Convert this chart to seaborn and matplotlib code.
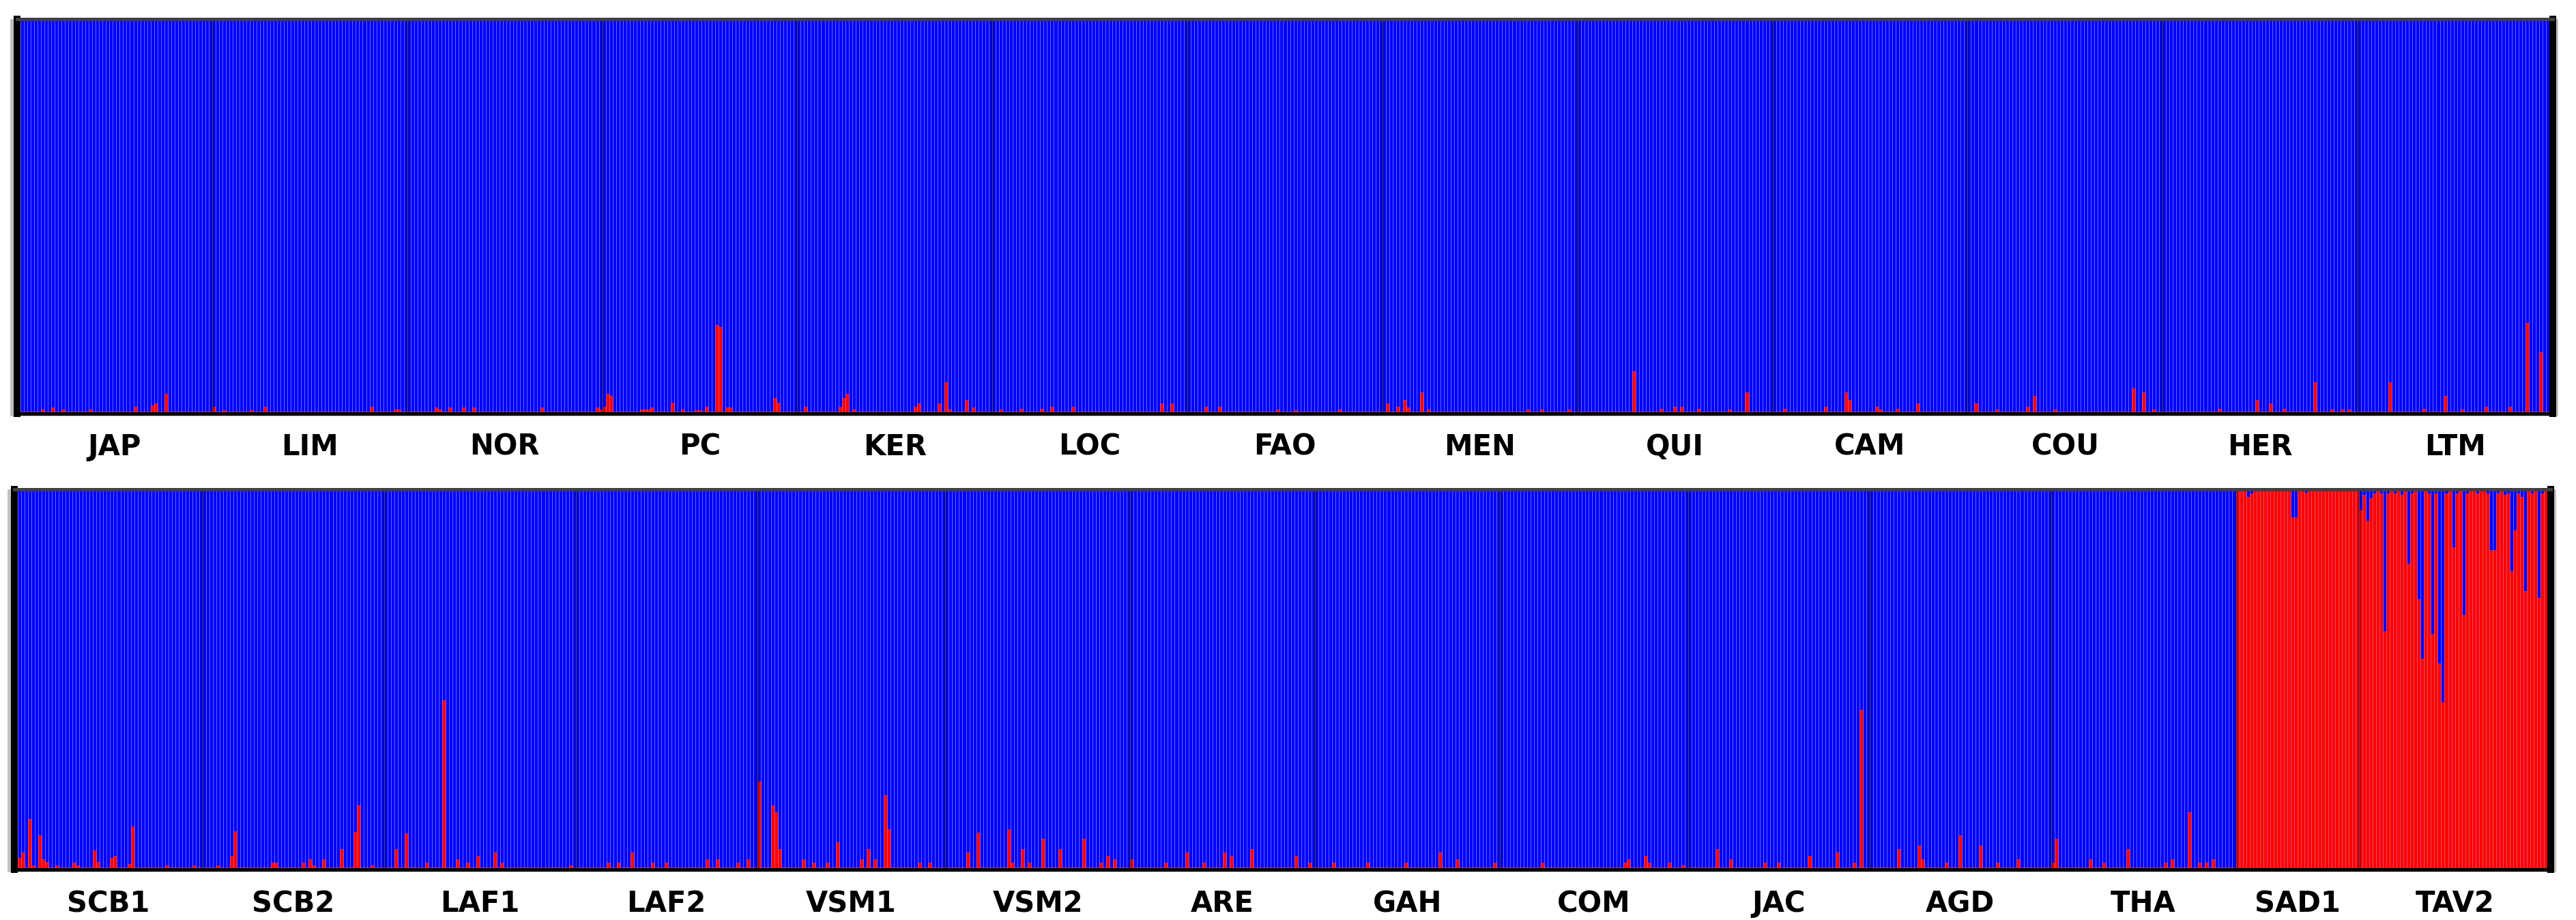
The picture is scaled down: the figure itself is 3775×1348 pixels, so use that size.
import seaborn as sns
import matplotlib.pyplot as plt
import matplotlib.patches as mpatches
import pandas as pd

# membership in the red cluster for each individual, per mille (blue = rest)
top_pops = ["JAP", "LIM", "NOR", "PC", "KER", "LOC", "FAO",
            "MEN", "QUI", "CAM", "COU", "HER", "LTM"]
bottom_pops = ["SCB1", "SCB2", "LAF1", "LAF2", "VSM1", "VSM2", "ARE",
               "GAH", "COM", "JAC", "AGD", "THA", "SAD1", "TAV2"]

JAP = [5, 5, 5, 5, 5, 5, 5, 10, 5, 5, 15, 5, 5, 10, 5, 5, 5, 5, 5, 5,
       5, 10, 5, 5, 5, 5, 5, 5, 5, 5, 5, 5, 5, 5, 17, 5, 5, 5, 5, 20,
       26, 5, 5, 50, 5, 5, 5, 5, 5, 5, 5, 5, 5, 5, 5, 5, 5]
LIM = [17, 5, 5, 8, 5, 5, 5, 5, 5, 5, 5, 8, 5, 5, 5, 17, 5, 5, 5, 5,
       5, 5, 5, 5, 5, 5, 5, 5, 5, 5, 5, 5, 5, 5, 5, 5, 5, 5, 5, 5,
       5, 5, 5, 5, 5, 5, 17, 5, 5, 5, 5, 5, 5, 10, 10, 5, 5]
NOR = [5, 5, 5, 5, 5, 5, 5, 5, 15, 10, 5, 5, 15, 5, 5, 5, 15, 5, 5, 15,
       5, 5, 5, 5, 5, 5, 5, 5, 5, 5, 5, 5, 5, 5, 5, 5, 5, 5, 5, 15,
       5, 5, 5, 5, 5, 5, 5, 5, 5, 5, 5, 5, 5, 5, 5, 15, 10]
PC = [17, 50, 45, 5, 5, 5, 5, 5, 5, 5, 5, 10, 10, 10, 15, 5, 5, 5, 5, 5,
      28, 5, 5, 10, 5, 5, 5, 8, 8, 5, 17, 5, 5, 225, 220, 5, 15, 15, 5, 5,
      5, 5, 5, 5, 5, 5, 5, 5, 5, 5, 40, 28, 5, 5, 5, 5, 5]
KER = [5, 5, 17, 5, 5, 5, 5, 5, 5, 5, 5, 5, 17, 40, 50, 5, 10, 5, 5, 5,
       5, 5, 5, 5, 5, 5, 5, 5, 5, 5, 5, 5, 5, 5, 17, 26, 5, 5, 5, 5,
       5, 26, 5, 80, 10, 5, 5, 5, 5, 35, 5, 15, 5, 5, 5, 5, 5]
LOC = [5, 5, 10, 5, 5, 5, 5, 5, 12, 5, 5, 5, 5, 5, 12, 5, 5, 18, 5, 5,
       5, 5, 5, 18, 5, 5, 5, 5, 5, 5, 5, 5, 5, 5, 5, 5, 5, 5, 5, 5,
       5, 5, 5, 5, 5, 5, 5, 5, 5, 26, 5, 5, 26, 5, 5, 5, 5]
FAO = [5, 5, 5, 5, 5, 18, 5, 5, 5, 18, 5, 5, 5, 5, 5, 5, 5, 5, 5, 5,
       5, 5, 5, 5, 5, 5, 10, 5, 5, 5, 5, 8, 5, 5, 5, 5, 5, 5, 5, 5,
       5, 5, 5, 5, 10, 5, 5, 5, 5, 5, 5, 5, 5, 5, 5, 5, 5]
MEN = [5, 26, 5, 5, 18, 5, 35, 15, 5, 5, 5, 53, 5, 10, 5, 5, 5, 5, 5, 5,
       5, 5, 5, 5, 5, 5, 5, 5, 5, 5, 5, 5, 5, 5, 5, 5, 5, 5, 5, 5,
       5, 5, 10, 5, 5, 5, 10, 5, 5, 5, 5, 5, 5, 5, 10, 5, 5]
QUI = [5, 5, 5, 5, 5, 5, 5, 5, 5, 5, 5, 5, 5, 5, 5, 5, 107, 5, 5, 5,
       5, 5, 5, 5, 12, 5, 5, 5, 18, 5, 18, 5, 5, 5, 5, 12, 5, 5, 5, 5,
       5, 5, 5, 5, 10, 5, 5, 5, 5, 53, 5, 5, 5, 5, 5, 5, 5]
CAM = [5, 5, 5, 12, 5, 5, 5, 5, 5, 5, 5, 5, 5, 5, 5, 18, 5, 5, 5, 5,
       5, 53, 35, 5, 5, 5, 5, 5, 5, 5, 18, 10, 5, 5, 5, 5, 12, 5, 5, 5,
       5, 5, 26, 5, 5, 5, 5, 5, 5, 5, 5, 5, 5, 5, 5, 5, 5]
COU = [5, 5, 26, 5, 5, 5, 5, 5, 10, 5, 5, 5, 5, 5, 5, 5, 5, 18, 5, 45,
       5, 5, 5, 5, 5, 10, 5, 5, 5, 5, 5, 5, 5, 5, 5, 5, 5, 5, 5, 5,
       5, 5, 5, 5, 5, 5, 5, 5, 64, 5, 5, 53, 5, 5, 10, 5, 5]
HER = [5, 5, 5, 5, 5, 5, 5, 5, 5, 5, 5, 5, 5, 5, 5, 5, 12, 5, 5, 5,
       5, 5, 5, 5, 5, 5, 5, 35, 5, 5, 5, 26, 5, 5, 5, 12, 5, 5, 5, 5,
       5, 5, 5, 5, 80, 5, 5, 5, 5, 10, 5, 5, 10, 5, 10, 5, 5]
LTM = [5, 5, 5, 5, 5, 5, 5, 5, 5, 80, 5, 5, 5, 5, 5, 5, 5, 5, 5, 12,
       5, 5, 5, 5, 5, 45, 5, 5, 5, 5, 10, 5, 5, 5, 5, 5, 5, 18, 5, 5,
       5, 5, 5, 5, 18, 5, 5, 5, 5, 230, 5, 5, 5, 155, 5, 5, 5]

SCB1 = [5, 30, 45, 5, 133, 10, 5, 89, 27, 20, 5, 5, 10, 5, 5, 5, 5, 18, 10, 5,
        5, 5, 5, 50, 20, 5, 5, 5, 30, 36, 5, 5, 5, 15, 114, 5, 5, 5, 5, 5,
        5, 5, 5, 5, 10, 5, 5, 5, 5, 5, 5, 5, 10, 5, 5]
SCB2 = [5, 5, 5, 5, 10, 5, 5, 5, 36, 100, 5, 5, 5, 5, 5, 5, 5, 5, 5, 5,
        18, 18, 5, 5, 5, 5, 5, 5, 5, 18, 5, 27, 10, 5, 5, 27, 5, 5, 5, 5,
        54, 5, 5, 5, 99, 168, 5, 5, 5, 10, 5, 5, 5]
LAF1 = [5, 5, 5, 54, 5, 5, 95, 5, 5, 5, 5, 5, 18, 5, 5, 5, 5, 445, 5, 5,
        5, 27, 5, 5, 18, 5, 5, 36, 5, 5, 5, 5, 45, 5, 18, 5, 5, 5, 5, 5,
        5, 5, 5, 5, 5, 5, 5, 5, 5, 5, 5, 5, 5, 5, 10, 5]
LAF2 = [5, 5, 5, 5, 5, 5, 5, 5, 5, 18, 5, 5, 18, 5, 5, 5, 45, 5, 5, 5,
        5, 5, 18, 5, 5, 5, 18, 5, 5, 5, 5, 5, 5, 5, 5, 5, 5, 5, 27, 5,
        5, 27, 5, 5, 5, 5, 5, 18, 5, 5, 27, 5, 5]
VSM1 = [231, 5, 5, 5, 168, 150, 54, 5, 5, 5, 5, 5, 5, 27, 5, 5, 18, 5, 5, 5,
        18, 5, 5, 72, 5, 5, 5, 5, 5, 5, 27, 5, 54, 5, 27, 5, 5, 195, 106, 5,
        5, 5, 5, 5, 5, 5, 5, 18, 5, 5, 18, 5, 5, 5, 5]
VSM2 = [5, 5, 5, 5, 5, 5, 45, 5, 5, 97, 5, 5, 5, 5, 5, 5, 5, 5, 106, 18,
        5, 5, 54, 5, 18, 5, 5, 5, 81, 5, 5, 5, 5, 54, 5, 5, 5, 5, 5, 5,
        81, 5, 5, 5, 5, 18, 5, 36, 5, 27, 5, 5, 5, 5]
ARE = [27, 5, 5, 5, 5, 5, 5, 5, 5, 5, 18, 5, 5, 5, 5, 5, 45, 5, 5, 5,
       5, 18, 5, 5, 5, 5, 5, 45, 5, 36, 5, 5, 5, 5, 5, 54, 5, 5, 5, 5,
       5, 5, 5, 5, 5, 5, 5, 5, 36, 5, 5, 5, 18, 5]
GAH = [5, 5, 5, 5, 5, 18, 5, 5, 5, 5, 5, 5, 5, 5, 5, 18, 5, 5, 5, 5,
       5, 5, 5, 5, 5, 5, 18, 5, 5, 5, 5, 5, 5, 5, 5, 5, 45, 5, 5, 5,
       5, 27, 5, 5, 5, 5, 5, 5, 5, 5, 5, 5, 18, 5]
COM = [5, 5, 5, 5, 5, 5, 5, 5, 5, 5, 5, 5, 18, 5, 5, 5, 5, 5, 5, 5,
       5, 5, 5, 5, 5, 5, 5, 5, 5, 5, 5, 5, 5, 5, 5, 5, 18, 27, 5, 5,
       5, 5, 36, 18, 5, 5, 5, 5, 5, 18, 5, 5, 5, 10, 5]
JAC = [5, 5, 5, 5, 5, 5, 5, 5, 54, 5, 5, 5, 27, 5, 5, 5, 5, 5, 5, 5,
       5, 5, 18, 5, 5, 5, 18, 5, 5, 5, 5, 5, 5, 5, 5, 36, 5, 5, 5, 5,
       5, 5, 5, 45, 5, 5, 5, 5, 18, 5, 420, 5, 5]
AGD = [5, 5, 5, 5, 5, 5, 5, 5, 54, 5, 5, 5, 5, 5, 63, 27, 5, 5, 5, 5,
       5, 5, 18, 5, 5, 5, 89, 5, 5, 5, 5, 5, 63, 5, 5, 5, 5, 18, 5, 5,
       5, 5, 5, 27, 5, 5, 5, 5, 5, 5, 5, 5, 5]
THA = [18, 81, 5, 5, 5, 5, 5, 5, 5, 5, 5, 27, 5, 5, 5, 18, 5, 5, 5, 5,
       5, 5, 54, 5, 5, 5, 5, 5, 5, 5, 5, 5, 5, 18, 5, 27, 5, 5, 5, 5,
       150, 5, 5, 18, 5, 18, 5, 27, 5, 5, 5, 5, 5, 5]
SAD1 = [1000, 995, 1000, 980, 990, 1000, 995, 1000, 1000, 995, 1000, 1000,
        1000, 1000, 1000, 1000, 926, 926, 1000, 1000, 991, 1000, 1000, 1000,
        995, 1000, 1000, 1000, 1000, 1000, 1000, 1000, 1000, 1000, 1000, 1000]
TAV2 = [946, 985, 917, 976, 990, 1000, 990, 626, 990, 1000, 990, 1000, 985, 1000,
        804, 990, 1000, 711, 555, 1000, 990, 620, 990, 542, 440, 990, 1000, 847,
        990, 1000, 670, 990, 1000, 1000, 990, 1000, 1000, 990, 840, 840, 990, 1000,
        985, 990, 785, 893, 990, 980, 732, 1000, 990, 1000, 714, 990, 1000, 990]

top_q = [JAP, LIM, NOR, PC, KER, LOC, FAO, MEN, QUI, CAM, COU, HER, LTM]
bottom_q = [SCB1, SCB2, LAF1, LAF2, VSM1, VSM2, ARE, GAH, COM, JAC, AGD,
            THA, SAD1, TAV2]


def panel_frame(names, groups):
    rows = []
    i = 0
    for name, vals in zip(names, groups):
        for v in vals:
            rows.append({"ind": i, "pop": name, "red": v / 1000, "blue": 1.0})
            i += 1
    return pd.DataFrame(rows)


sns.set_theme(style="white")
plt.rcParams["font.family"] = ["DejaVu Sans"]

W, H = 3775, 1348
fig = plt.figure(figsize=(W / 100, H / 100), dpi=100)
ax_top = fig.add_axes([25 / W, (H - 606) / H, (3741 - 25) / W, 578 / H])
ax_bot = fig.add_axes([21 / W, (H - 1274) / H, (3738 - 21) / W, 557 / H])

for ax, names, groups, pad in [(ax_top, top_pops, top_q, 20),
                               (ax_bot, bottom_pops, bottom_q, 21)]:
    df = panel_frame(names, groups)
    n = len(df)

    # blue bar for every individual, red share stacked from the bottom
    sns.barplot(data=df, x="ind", y="blue", native_scale=True, width=1,
                color="#0000ff", saturation=1, errorbar=None,
                edgecolor=(1, 1, 1, 0.2), linewidth=0.6, ax=ax)
    sns.barplot(data=df, x="ind", y="red", native_scale=True, width=1,
                color="#ff0000", saturation=1, errorbar=None,
                edgecolor=(1, 1, 1, 0.2), linewidth=0.6, ax=ax)

    # population separators
    counts = df.groupby("pop", sort=False).size()
    edges = counts.cumsum().values
    for b in [0] + list(edges[:-1]):
        ax.axvline(b - 0.5, color="black", alpha=0.3, lw=3.6, zorder=3)

    centers = df.groupby("pop", sort=False)["ind"].mean().values
    ax.set_xlim(-0.5, n - 0.5)
    ax.set_ylim(0, 1)
    ax.set_xticks(centers)
    ax.set_xticklabels(names, fontsize=30, fontweight="bold", color="black")
    ax.tick_params(axis="x", length=0, pad=pad)
    ax.set_yticks([])
    ax.set_xlabel("")
    ax.set_ylabel("")

    for side in ["left", "right"]:
        ax.spines[side].set_linewidth(7.2)
        ax.spines[side].set_color("black")
    ax.spines["bottom"].set_linewidth(3.6)
    ax.spines["bottom"].set_color("black")
    ax.spines["top"].set_linewidth(3.6)
    ax.spines["top"].set_color("#404040")
    for s in ax.spines.values():
        s.set_zorder(4)

    # light grey bevel behind the frame
    pos = ax.get_position()
    fig.patches.append(mpatches.Rectangle(
        (pos.x0 - 10 / W, pos.y0 - 4 / H), pos.width + 18 / W, pos.height + 4 / H,
        transform=fig.transFigure, facecolor="#c0c0c0", edgecolor="none",
        zorder=-1))

fig.savefig("out.png", dpi=100, facecolor="white")
